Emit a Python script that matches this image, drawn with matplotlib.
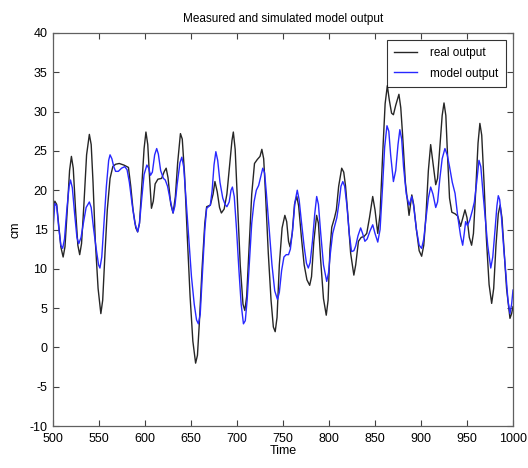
import matplotlib
matplotlib.use("Agg")
import matplotlib.pyplot as plt

# real (measured) output
real_t = [500, 502, 504, 506, 508.5, 511, 513, 515.5, 518, 520, 522, 524.5, 527, 529, 531,
          533.5, 536.5, 539.5, 541.5, 543.5, 546, 549, 552, 554, 556.5, 559, 562, 565, 568,
          572, 577, 582, 584.5, 587, 590, 592, 594, 596.5, 599, 601, 603, 605, 607, 609, 611,
          614, 618, 621, 623, 625, 628, 630.5, 633, 635.5, 638.5, 640.5, 643, 646, 649, 652,
          655, 657, 659, 662, 665, 667, 671, 674, 676, 678.5, 681, 683, 686, 689, 692, 694.5,
          696, 698, 700.5, 703.5, 706.5, 708.5, 710.5, 713, 716, 719, 722, 725, 727, 729, 731,
          734, 737, 739.5, 741.5, 743.5, 746, 749, 752, 754, 756, 757.6, 760, 762.5, 765, 767,
          770, 773, 776, 779, 781, 783.5, 786.5, 788.5, 791, 794, 797, 799, 801, 803, 806, 808,
          810.5, 813.8, 816, 818, 820.5, 823.5, 827, 829, 832, 835, 838, 841, 844, 847.5, 850,
          853, 855.5, 858.5, 861, 863.4, 865.5, 868, 870, 872.5, 876, 878, 880, 883, 887, 890,
          892, 895, 898, 900.7, 903, 905.5, 908, 910.5, 913, 916, 918, 920.5, 923, 925, 927,
          929, 931, 933.5, 937, 940, 943, 945.5, 947.8, 950, 952.5, 955, 957, 959.5, 962, 964,
          966, 968.5, 971, 974, 976.8, 979, 981.5, 984, 986, 988, 990.5, 993, 996.7, 998.5, 1000]
real_v = [17.5, 18.6, 18.2, 15.8, 12.8, 11.5, 12.8, 17.5, 22.5, 24.3, 22.8, 17.5, 13.0, 11.8, 13.2,
          18.0, 24.5, 27.1, 25.8, 21.0, 13.5, 7.5, 4.3, 6.0, 12.0, 17.5, 21.5, 23.0, 23.3,
          23.4, 23.2, 22.9, 20.5, 17.5, 15.2, 14.7, 15.8, 20.5, 25.3, 27.4, 25.8, 21.5, 17.7, 18.6, 20.8,
          21.4, 21.5, 22.4, 22.8, 21.6, 18.2, 17.1, 19.2, 23.5, 27.2, 26.5, 22.0, 14.0, 6.5, 0.8,
          -2.0, -1.0, 3.0, 10.0, 15.8, 17.9, 18.1, 19.5, 21.1, 19.8, 17.8, 17.1, 17.6, 19.5, 23.2, 26.3,
          27.4, 25.2, 18.5, 10.5, 5.5, 4.7, 6.5, 12.5, 19.5, 23.4, 23.9, 24.3, 25.2, 24.0, 19.5,
          12.0, 6.0, 2.6, 2.0, 3.8, 10.5, 15.2, 16.8, 16.0, 13.5, 12.8, 14.5, 18.2, 19.2, 18.0,
          14.0, 10.5, 8.6, 7.9, 9.0, 13.5, 16.8, 15.8, 11.0, 6.2, 4.1, 6.0, 12.5, 15.3, 16.5, 17.5,
          20.5, 22.8, 22.3, 20.5, 16.8, 12.0, 9.2, 10.5, 13.5, 14.0, 14.1, 14.5, 16.5, 19.2, 17.5,
          14.5, 17.0, 25.0, 31.0, 33.3, 31.5, 29.8, 29.6, 30.8, 32.2, 30.5, 27.0, 21.0, 16.8, 19.4,
          18.2, 15.0, 12.3, 11.6, 13.0, 17.0, 22.5, 25.8, 23.5, 20.7, 21.5, 25.5, 29.5, 31.1, 29.5,
          24.0, 19.0, 17.2, 17.0, 16.7, 15.4, 16.5, 17.5, 16.5, 14.0, 13.0, 14.5, 20.0, 26.0, 28.5,
          27.0, 21.0, 14.0, 8.0, 5.6, 7.5, 13.0, 17.0, 18.1, 16.5, 12.0, 7.5, 3.7, 4.3, 5.2]

# simulated model output
model_t = [500, 502, 504, 506, 508.5, 510.5, 512.5, 515, 517.5, 519, 521, 523.5, 526, 528, 530.5,
           533, 536, 539.5, 541.5, 544, 547, 549.5, 551, 553, 555.5, 558, 560.5, 562, 564, 566,
           568, 571, 574.5, 578, 580.5, 583, 586, 589, 592, 594, 596.5, 599, 602, 604, 606, 608,
           610.5, 612.7, 614.5, 617, 620, 622, 624.5, 627, 630.5, 632.5, 635, 638, 640, 642,
           644.5, 647.5, 650.5, 653.5, 656, 658, 660, 662.5, 665, 667, 671, 673, 675, 677, 679,
           681.5, 684.5, 687, 689, 691.5, 693.5, 695, 697, 699.5, 702, 704.5, 707, 709, 711,
           713.5, 716, 718.5, 721, 723.5, 726, 728, 730, 732, 735, 738, 741, 744, 746, 748.5,
           751, 753.5, 756, 758, 760.5, 763, 765.5, 767.5, 770, 773, 775.5, 777.5, 779.5, 782,
           784.5, 786.6, 788.5, 791, 794, 797.5, 799.5, 801.5, 804, 806, 808.5, 811, 813, 815,
           817, 819.5, 822, 824.5, 827, 829, 831.5, 834.4, 836.5, 839, 841.5, 844.5, 847.5, 850,
           853, 855.5, 858, 860.5, 863, 865, 867, 870, 872.5, 875, 877, 879, 881, 884, 887, 890,
           892, 895, 898, 900.7, 903, 905.5, 908, 910.5, 913, 916, 918, 920.5, 923, 926, 928.5,
           931, 934, 937, 940, 943, 945.3, 947, 948.5, 950.5, 953, 956, 958, 960.5, 963, 965,
           967.5, 970, 972.5, 975.8, 978, 980.5, 982.5, 984, 985.5, 987.5, 990, 992.5, 994.5,
           996.7, 998.5, 1000]
model_v = [15.0, 18.3, 18.0, 15.5, 13.0, 12.6, 13.8, 17.5, 20.5, 21.3, 20.3, 17.0, 14.0, 13.2, 14.0,
           15.8, 17.8, 18.5, 17.8, 15.2, 12.5, 10.5, 10.1, 11.5, 16.0, 20.5, 23.8, 24.5, 24.0, 23.0,
           22.4, 22.4, 22.8, 23.0, 22.6, 21.0, 18.2, 15.8, 14.7, 15.8, 19.0, 22.0, 23.2, 22.8, 21.9, 22.3,
           24.5, 25.3, 24.6, 22.5, 21.5, 21.3, 20.5, 19.0, 17.1, 18.0, 20.8, 23.5, 24.2, 23.0,
           19.0, 14.0, 9.0, 5.5, 3.5, 3.0, 4.2, 9.5, 15.0, 17.7, 18.1, 20.0, 23.2, 24.9, 23.8,
           21.0, 19.0, 18.2, 17.9, 18.5, 20.0, 20.4, 19.2, 15.0, 10.0, 5.5, 3.0, 3.4, 6.0,
           11.0, 15.8, 18.5, 20.0, 20.6, 21.8, 22.8, 22.2, 19.5, 15.0, 10.5, 7.2, 6.1, 7.0, 9.8,
           11.5, 11.8, 11.8, 12.5, 15.0, 18.5, 20.0, 18.8, 16.0, 12.8, 10.7, 10.1, 10.8, 13.5,
           17.0, 19.2, 18.2, 14.5, 10.5, 8.4, 9.5, 12.0, 14.5, 15.4, 16.5, 18.5, 20.5, 21.1,
           20.5, 18.0, 14.5, 12.2, 12.3, 12.9, 14.2, 15.2, 14.5, 13.5, 13.8, 14.8, 15.6, 14.5,
           13.4, 15.0, 20.0, 25.5, 28.2, 27.5, 24.5, 21.1, 22.5, 25.8, 27.7, 26.5, 23.0, 19.5, 18.1, 19.2,
           18.0, 15.0, 13.0, 12.6, 13.8, 16.5, 19.0, 20.4, 19.5, 17.8, 18.5, 21.5, 24.0, 25.3, 24.5,
           23.0, 21.0, 19.6, 16.6, 14.2, 13.0, 14.5, 16.0, 15.5, 16.2, 17.5, 18.5, 21.0, 23.8, 23.0,
           19.5, 16.2, 13.0, 10.1, 11.5, 15.0, 18.0, 19.3, 18.8, 16.5, 12.5, 9.0, 6.0,
           4.3, 5.5, 7.3]

x_ticks = list(range(500, 1001, 50))
y_ticks = list(range(-10, 41, 5))

plt.rcParams["font.family"] = ["Liberation Sans", "DejaVu Sans"]
plt.rcParams["axes.unicode_minus"] = False

fig = plt.figure(figsize=(5.28, 4.68), dpi=100)
ax = fig.add_axes([0.1004, 0.0897, 0.8712, 0.8398])

ax.plot(real_t, real_v, color="#262626", linewidth=1.0, label="real output")
ax.plot(model_t, model_v, color="#2828ff", linewidth=1.0, label="model output")

ax.set_xlim(500, 1000)
ax.set_ylim(-10, 40)
ax.set_xticks(x_ticks)
ax.set_yticks(y_ticks)
ax.tick_params(direction="in", top=True, right=True, length=4, width=0.8,
               labelsize=9, colors="#404040", labelcolor="black")
ax.tick_params(axis="x", pad=5)
ax.tick_params(axis="y", pad=4)
for sp in ax.spines.values():
    sp.set_color("#606060")
    sp.set_linewidth(0.9)

ax.set_title("Measured and simulated model output", fontsize=8.5, pad=8)
ax.set_xlabel("Time", fontsize=9, labelpad=0)
ax.set_ylabel("cm", fontsize=9, labelpad=6)

leg = ax.legend(loc="upper right", fontsize=8.5, frameon=True, fancybox=False,
                edgecolor="black", handlelength=2.0, handletextpad=1.1,
                borderpad=0.6, borderaxespad=0.0, labelspacing=0.75,
                bbox_to_anchor=(0.984, 0.983))
leg.get_frame().set_linewidth(0.8)

fig.savefig("out.png", dpi=100)
